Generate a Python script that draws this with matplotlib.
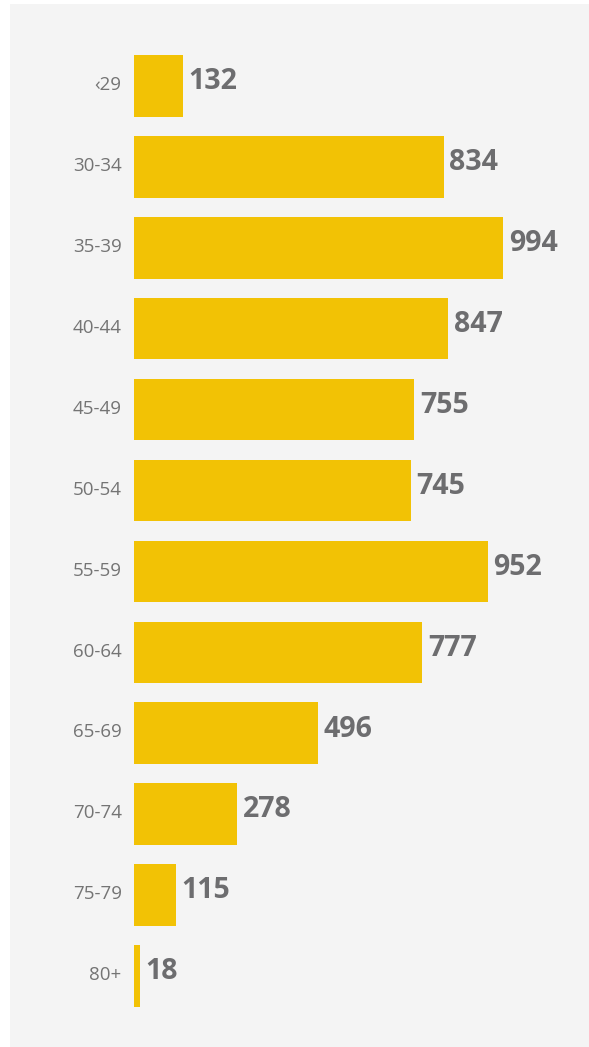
import matplotlib.pyplot as plt
from matplotlib.patches import Rectangle
from matplotlib.transforms import ScaledTranslation

# age groups and counts
age_groups = ["‹29", "30-34", "35-39", "40-44", "45-49", "50-54",
              "55-59", "60-64", "65-69", "70-74", "75-79", "80+"]
counts = [132, 834, 994, 847, 755, 745, 952, 777, 496, 278, 115, 18]

BAR_COLOR = "#f2c205"
PANEL_COLOR = "#f4f4f4"
LABEL_COLOR = "#747474"
VALUE_COLOR = "#6d6d6f"

plt.rcParams["font.family"] = ["Open Sans", "DejaVu Sans"]

W, H = 589, 1047
fig = plt.figure(figsize=(W / 100, H / 100), dpi=100)
fig.patch.set_facecolor("white")

# grey card behind the chart
fig.patches.append(Rectangle((10 / W, 0), 1, 1 - 4 / H, transform=fig.transFigure,
                             facecolor=PANEL_COLOR, edgecolor="none", zorder=-10))

x0 = 133.5       # pixel where the bars start
px_per_unit = 0.3719
row0, step = 86, 80.9

ax = fig.add_axes([x0 / W, 0, 1 - x0 / W, 1])
ax.set_facecolor("none")
ax.set_zorder(5)

ypos = list(range(len(age_groups)))
ax.barh(ypos, counts, height=0.76, color=BAR_COLOR)

for y, v in zip(ypos, counts):
    ax.annotate(str(v), (v, y), xytext=(4, 3), textcoords="offset points",
                va="center", ha="left", fontsize=20.5, fontweight="bold",
                color=VALUE_COLOR)

ax.set_xlim(0, (W - x0) / px_per_unit)
ax.set_ylim((H - row0) / step, -row0 / step)

ax.set_yticks(ypos, age_groups)
ax.tick_params(axis="y", length=0, pad=8.5, labelsize=13.5, labelcolor=LABEL_COLOR)
# nudge the age labels up a little
lift = ScaledTranslation(0, 2 / 72, fig.dpi_scale_trans)
for tick in ax.yaxis.get_major_ticks():
    tick.label1.set_transform(tick.label1.get_transform() + lift)
ax.set_xticks([])
for s in ax.spines.values():
    s.set_visible(False)

fig.savefig("out.png", dpi=100)
